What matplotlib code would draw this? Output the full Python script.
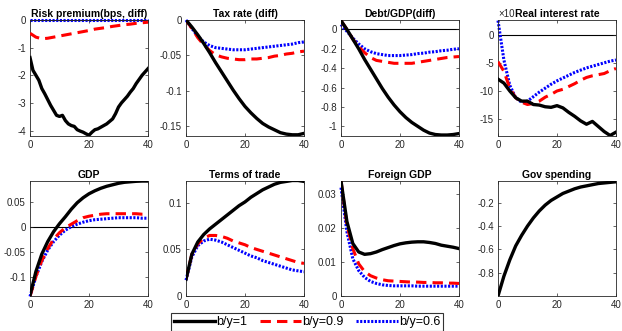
import numpy as np
import matplotlib
matplotlib.use("Agg")
import matplotlib.pyplot as plt

# horizon (quarters) used for the read-off points
t_even = np.arange(0, 41, 2)
t_all = np.arange(0, 41)

# Risk premium (bps, diff)
risk_b1 = [-1.36, -1.82, -2.0, -2.18, -2.48, -2.67, -2.88, -3.09, -3.27, -3.45,
           -3.49, -3.45, -3.64, -3.76, -3.82, -3.85, -3.97, -4.02, -4.06, -4.12,
           -4.17, -4.06, -3.97, -3.94, -3.88, -3.82, -3.76, -3.67, -3.58, -3.39,
           -3.15, -3.0, -2.88, -2.76, -2.61, -2.48, -2.3, -2.15, -2.0, -1.88, -1.76]
risk_b09 = [-0.48, -0.62, -0.68, -0.66, -0.62, -0.58, -0.54, -0.5, -0.46, -0.42, -0.38,
            -0.33, -0.3, -0.27, -0.23, -0.2, -0.17, -0.15, -0.12, -0.1, -0.08]
risk_b06 = [0.0] * 21

# Tax rate (diff)
tax_b1 = [0.0, -0.010, -0.021, -0.033, -0.046, -0.060, -0.073, -0.086, -0.099, -0.111,
          -0.122, -0.131, -0.139, -0.146, -0.151, -0.155, -0.159, -0.161, -0.162, -0.162, -0.160]
tax_b09 = [0.0, -0.012, -0.025, -0.035, -0.043, -0.049, -0.052, -0.054, -0.055, -0.056,
           -0.056, -0.055, -0.055, -0.054, -0.053, -0.051, -0.050, -0.048, -0.047, -0.045, -0.044]
tax_b06 = [0.0, -0.012, -0.023, -0.031, -0.036, -0.039, -0.040, -0.041, -0.042, -0.042,
           -0.042, -0.041, -0.040, -0.039, -0.038, -0.037, -0.036, -0.035, -0.034, -0.032, -0.031]

# Debt/GDP (diff)
debt_b1 = [0.09, 0.0, -0.10, -0.20, -0.31, -0.41, -0.51, -0.61, -0.70, -0.78, -0.85,
           -0.91, -0.96, -1.00, -1.04, -1.07, -1.085, -1.09, -1.09, -1.085, -1.075]
debt_b09 = [0.09, 0.0, -0.10, -0.18, -0.24, -0.29, -0.32, -0.33, -0.34, -0.35, -0.35,
            -0.35, -0.35, -0.34, -0.33, -0.32, -0.31, -0.30, -0.29, -0.285, -0.28]
debt_b06 = [0.05, -0.02, -0.09, -0.15, -0.20, -0.23, -0.25, -0.26, -0.27, -0.27, -0.27,
            -0.265, -0.26, -0.25, -0.245, -0.235, -0.23, -0.22, -0.215, -0.205, -0.20]

# Real interest rate (x 1e-4)
rate_b1 = [-7.9, -8.6, -10.0, -11.2, -11.8, -11.8, -12.4, -12.5, -12.8, -12.9, -12.6,
           -13.0, -13.8, -14.5, -15.3, -15.9, -15.4, -16.3, -17.2, -17.9, -17.3]
rate_b09 = [-4.8, -6.5, -9.5, -11.2, -12.0, -12.4, -12.2, -11.8, -11.1, -10.6, -10.0,
            -9.7, -9.2, -8.7, -8.1, -7.6, -7.3, -7.1, -6.9, -6.4, -6.0]
rate_b06 = [2.5, -4.5, -9.0, -11.2, -12.0, -11.8, -11.0, -10.2, -9.5, -8.8, -8.2,
            -7.7, -7.2, -6.7, -6.3, -5.9, -5.6, -5.3, -5.0, -4.7, -4.5]

# GDP
gdp_b1 = [-0.138, -0.090, -0.055, -0.030, -0.010, 0.006, 0.020, 0.035, 0.048, 0.058, 0.066,
          0.072, 0.077, 0.081, 0.084, 0.087, 0.089, 0.090, 0.091, 0.0915, 0.0915]
gdp_b09 = [-0.140, -0.100, -0.068, -0.044, -0.025, -0.012, -0.002, 0.005, 0.012, 0.018, 0.021,
           0.023, 0.025, 0.026, 0.026, 0.026, 0.026, 0.026, 0.026, 0.025, 0.025]
gdp_b06 = [-0.140, -0.100, -0.070, -0.047, -0.030, -0.017, -0.007, 0.000, 0.005, 0.009, 0.012,
           0.014, 0.015, 0.016, 0.017, 0.018, 0.018, 0.018, 0.018, 0.017, 0.017]

# Terms of trade
tot_b1 = [0.018, 0.045, 0.058, 0.066, 0.072, 0.077, 0.082, 0.087, 0.092, 0.097, 0.101,
          0.106, 0.110, 0.114, 0.117, 0.120, 0.122, 0.123, 0.124, 0.124, 0.123]
tot_b09 = [0.018, 0.045, 0.056, 0.062, 0.065, 0.065, 0.064, 0.062, 0.059, 0.057, 0.055,
           0.052, 0.050, 0.048, 0.046, 0.044, 0.042, 0.040, 0.038, 0.036, 0.035]
tot_b06 = [0.017, 0.042, 0.054, 0.059, 0.061, 0.060, 0.058, 0.055, 0.052, 0.049, 0.046,
           0.043, 0.041, 0.038, 0.036, 0.034, 0.032, 0.030, 0.028, 0.027, 0.026]

# Foreign GDP
fgdp_b1 = [0.034, 0.022, 0.0155, 0.013, 0.0123, 0.0125, 0.013, 0.0137, 0.0143, 0.0149, 0.0154,
           0.0157, 0.0159, 0.016, 0.016, 0.0158, 0.0155, 0.015, 0.0147, 0.0144, 0.014]
fgdp_b09 = [0.034, 0.021, 0.014, 0.0095, 0.0072, 0.006, 0.0053, 0.0048, 0.0045, 0.0044, 0.0043,
            0.0042, 0.0041, 0.0041, 0.004, 0.004, 0.0039, 0.0039, 0.0038, 0.0038, 0.0037]
fgdp_b06 = [0.032, 0.019, 0.011, 0.0075, 0.0055, 0.0043, 0.0037, 0.0033, 0.0031, 0.0030, 0.0030,
            0.0030, 0.0030, 0.0029, 0.0029, 0.0029, 0.0029, 0.0029, 0.0029, 0.0029, 0.0029]

# Gov spending
gov_b1 = [-1.0, -0.83, -0.69, -0.57, -0.48, -0.40, -0.33, -0.27, -0.22, -0.18, -0.15,
          -0.12, -0.10, -0.08, -0.065, -0.055, -0.045, -0.035, -0.03, -0.025, -0.02]

titles = ["Risk premium(bps, diff)", "Tax rate (diff)", "Debt/GDP(diff)", "Real interest rate",
          "GDP", "Terms of trade", "Foreign GDP", "Gov spending"]
labels = ["b/y=1", "b/y=0.9", "b/y=0.6"]

panels = [
    (t_all, risk_b1, risk_b09, risk_b06, (-4.18, 0.0), [-4, -3, -2, -1, 0], True),
    (t_even, tax_b1, tax_b09, tax_b06, (-0.163, 0.0), [-0.15, -0.1, -0.05, 0], False),
    (t_even, debt_b1, debt_b09, debt_b06, (-1.095, 0.097), [-1, -0.8, -0.6, -0.4, -0.2, 0], True),
    (t_even, rate_b1, rate_b09, rate_b06, (-17.9, 2.6), [-15, -10, -5, 0], True),
    (t_even, gdp_b1, gdp_b09, gdp_b06, (-0.139, 0.0926), [-0.1, -0.05, 0, 0.05], True),
    (t_even, tot_b1, tot_b09, tot_b06, (0.0, 0.124), [0, 0.05, 0.1], False),
    (t_even, fgdp_b1, fgdp_b09, fgdp_b06, (0.0, 0.0341), [0, 0.01, 0.02, 0.03], False),
    (t_even, gov_b1, None, None, (-1.0, -0.009), [-0.8, -0.6, -0.4, -0.2], False),
]

plt.rcParams['font.family'] = ['Liberation Sans', 'DejaVu Sans']

fig = plt.figure(figsize=(6.22, 3.31), dpi=100)
W, H = 622, 331
lefts = [30, 186, 341, 498]
tops = [20, 180.5]
aw, ah = 118, 115.5

grey = (0.15, 0.15, 0.15)
handles = []
for i, (tt, b1, b09, b06, ylim, yt, zero) in enumerate(panels):
    r, c = divmod(i, 4)
    ax = fig.add_axes([lefts[c] / W, 1 - (tops[r] + ah) / H, aw / W, ah / H])
    if zero:
        ax.axhline(0, color='k', lw=0.8, zorder=1)
    if b06 is not None:
        x6 = t_even if len(b06) == 21 else t_all
        x9 = t_even if len(b09) == 21 else t_all
        h3, = ax.plot(x6, b06, color='b', lw=2.2, linestyle=(0, (0.7, 0.5)), zorder=2,
                      clip_on=False)
        h2, = ax.plot(x9, b09, color='r', lw=2.2, linestyle=(0, (3.4, 2.0)), zorder=3)
    h1, = ax.plot(tt, b1, color='k', lw=2.4, zorder=4)
    if i == 0:
        handles = [h1, h2, h3]
    ax.set_xlim(0, 40)
    ax.set_ylim(*ylim)
    ax.set_xticks([0, 20, 40])
    ax.set_yticks(yt)
    ax.set_yticklabels([f"{v:g}" for v in yt])
    ax.tick_params(direction='in', length=2.5, width=0.5, labelsize=7, colors=grey,
                   top=True, right=True, pad=3)
    for s in ax.spines.values():
        s.set_linewidth(0.6)
        s.set_color(grey)
    ax.set_title(titles[i], fontsize=7.5, fontweight='bold', pad=2, zorder=5)
    if i == 3:
        # exponent label, partly hidden under the title as in the original
        ax.text(0.0, 1.005, "\u00d710", transform=ax.transAxes, fontsize=7,
                color=grey, va='bottom', ha='left', zorder=0)

leg = fig.legend(handles, labels, loc='lower center', bbox_to_anchor=(307 / W, 0.0),
                 ncol=3, fontsize=9, frameon=True, fancybox=False, edgecolor='k',
                 handlelength=3.3, handletextpad=0.1, columnspacing=1.0,
                 borderpad=0.25, borderaxespad=0.0)
leg.get_frame().set_linewidth(0.8)

fig.savefig("out.png", dpi=100)
